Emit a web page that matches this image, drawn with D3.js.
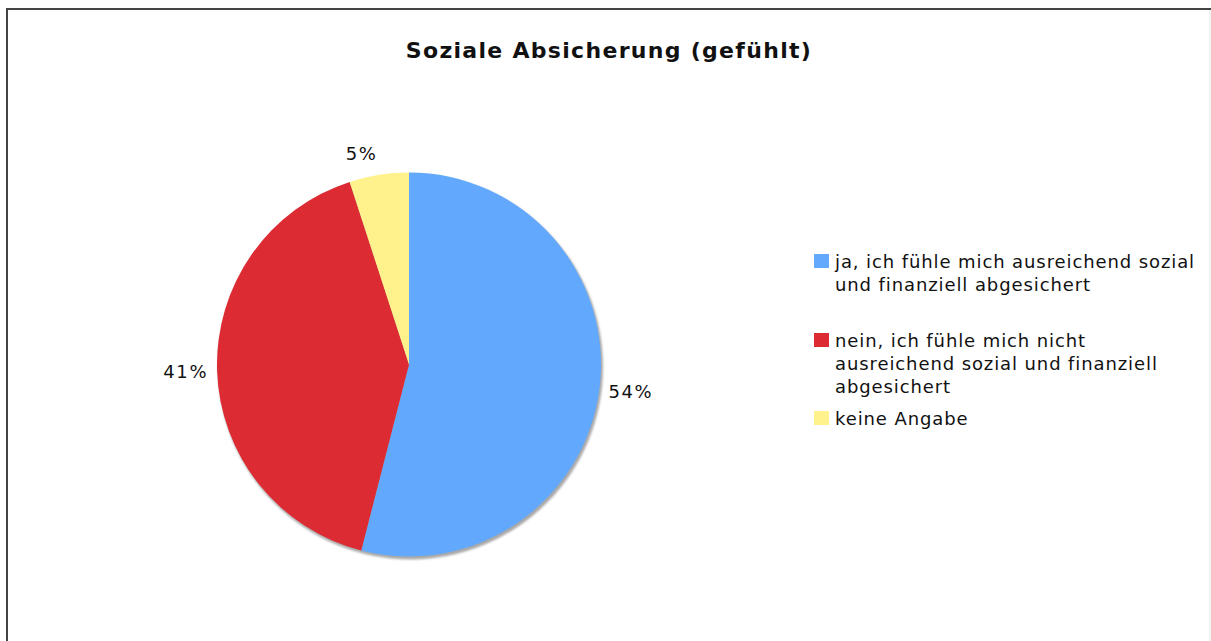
<!DOCTYPE html>
<html>
<head>
<meta charset="utf-8">
<script src="https://cdn.jsdelivr.net/npm/d3@7"></script>
<style>
  html, body { margin: 0; padding: 0; background: #fff; }
  svg { display: block; font-family: "DejaVu Sans", Verdana, sans-serif; }
</style>
</head>
<body>
<div id="chart"></div>
<script>
// Chart data
const categories = [
    "ja, ich fühle mich ausreichend sozial und finanziell abgesichert",
    "nein, ich fühle mich nicht ausreichend sozial und finanziell abgesichert",
    "keine Angabe"
];
// legend text is wrapped the same way as in the original
const legendLines = [
    ["ja, ich fühle mich ausreichend sozial", "und finanziell abgesichert"],
    ["nein, ich fühle mich nicht", "ausreichend sozial und finanziell", "abgesichert"],
    ["keine Angabe"]
];
const values = [54, 41, 5];
const colors = ["#62a9fe", "#dc2b33", "#fff28c"];
const title = "Soziale Absicherung (gefühlt)";

const width = 1211;
const height = 641;
const cx = 409;
const cy = 364.5;
const radius = 192;

const svg = d3.select("#chart")
    .append("svg")
    .attr("width", width)
    .attr("height", height);

// frame around the chart
svg.append("rect")
    .attr("x", 7).attr("y", 9)
    .attr("width", 1203).attr("height", 640)
    .attr("fill", "#fff")
    .attr("stroke", "#e6e6e6")
    .attr("stroke-width", 1);
svg.append("path")
    .attr("d", "M7,641 L7,9 L1211,9")
    .attr("fill", "none")
    .attr("stroke", "#444")
    .attr("stroke-width", 2);

// title
svg.append("text")
    .attr("x", 609)
    .attr("y", 58)
    .attr("text-anchor", "middle")
    .attr("font-weight", "bold")
    .attr("font-size", "22px")
    .attr("letter-spacing", "1.3px")
    .attr("fill", "#111")
    .text(title);

const pie = d3.pie().sort(null).value(d => d);
const arcs = pie(values);
const arc = d3.arc().innerRadius(0).outerRadius(radius);

const defs = svg.append("defs");
defs.append("filter")
    .attr("id", "shadow")
    .attr("x", "-10%").attr("y", "-10%")
    .attr("width", "120%").attr("height", "120%")
    .append("feGaussianBlur")
    .attr("stdDeviation", 1.2);

const g = svg.append("g").attr("transform", `translate(${cx},${cy})`);

// soft drop shadow beneath the pie
g.append("circle")
    .attr("cx", 1.5)
    .attr("cy", 2.5)
    .attr("r", radius + 0.5)
    .attr("fill", "#a8a8a8")
    .attr("filter", "url(#shadow)");

g.selectAll("path.slice")
    .data(arcs)
    .join("path")
    .attr("class", "slice")
    .attr("d", arc)
    .attr("fill", (d, i) => colors[i]);

// percentage labels outside the slices
g.selectAll("text.pct")
    .data(arcs)
    .join("text")
    .attr("class", "pct")
    .each(function(d) {
        const a = (d.startAngle + d.endAngle) / 2;
        const r = radius + 9;
        const x = Math.sin(a) * r;
        const y = -Math.cos(a) * r;
        const up = Math.cos(a);
        d3.select(this)
            .attr("x", x)
            .attr("y", y)
            .attr("dy", (0.35 - 0.68 * up) + "em")
            .attr("text-anchor", Math.sin(a) >= 0 ? "start" : "end");
    })
    .attr("font-size", "18px")
    .attr("letter-spacing", "1.6px")
    .attr("fill", "#111")
    .text(d => d.data + "%");

// legend
const legendTops = [254, 333, 411];
const legend = svg.append("g");
const items = legend.selectAll("g")
    .data(categories)
    .join("g")
    .attr("transform", (d, i) => `translate(814,${legendTops[i]})`);

items.append("rect")
    .attr("width", 15)
    .attr("height", 14)
    .attr("fill", (d, i) => colors[i]);

items.append("text")
    .attr("font-size", "18px")
    .attr("letter-spacing", "0.9px")
    .attr("fill", "#111")
    .each(function(d, i) {
        d3.select(this).selectAll("tspan")
            .data(legendLines[i])
            .join("tspan")
            .attr("x", 21)
            .attr("y", (l, j) => 14 + j * 23)
            .text(l => l);
    });
</script>
</body>
</html>
